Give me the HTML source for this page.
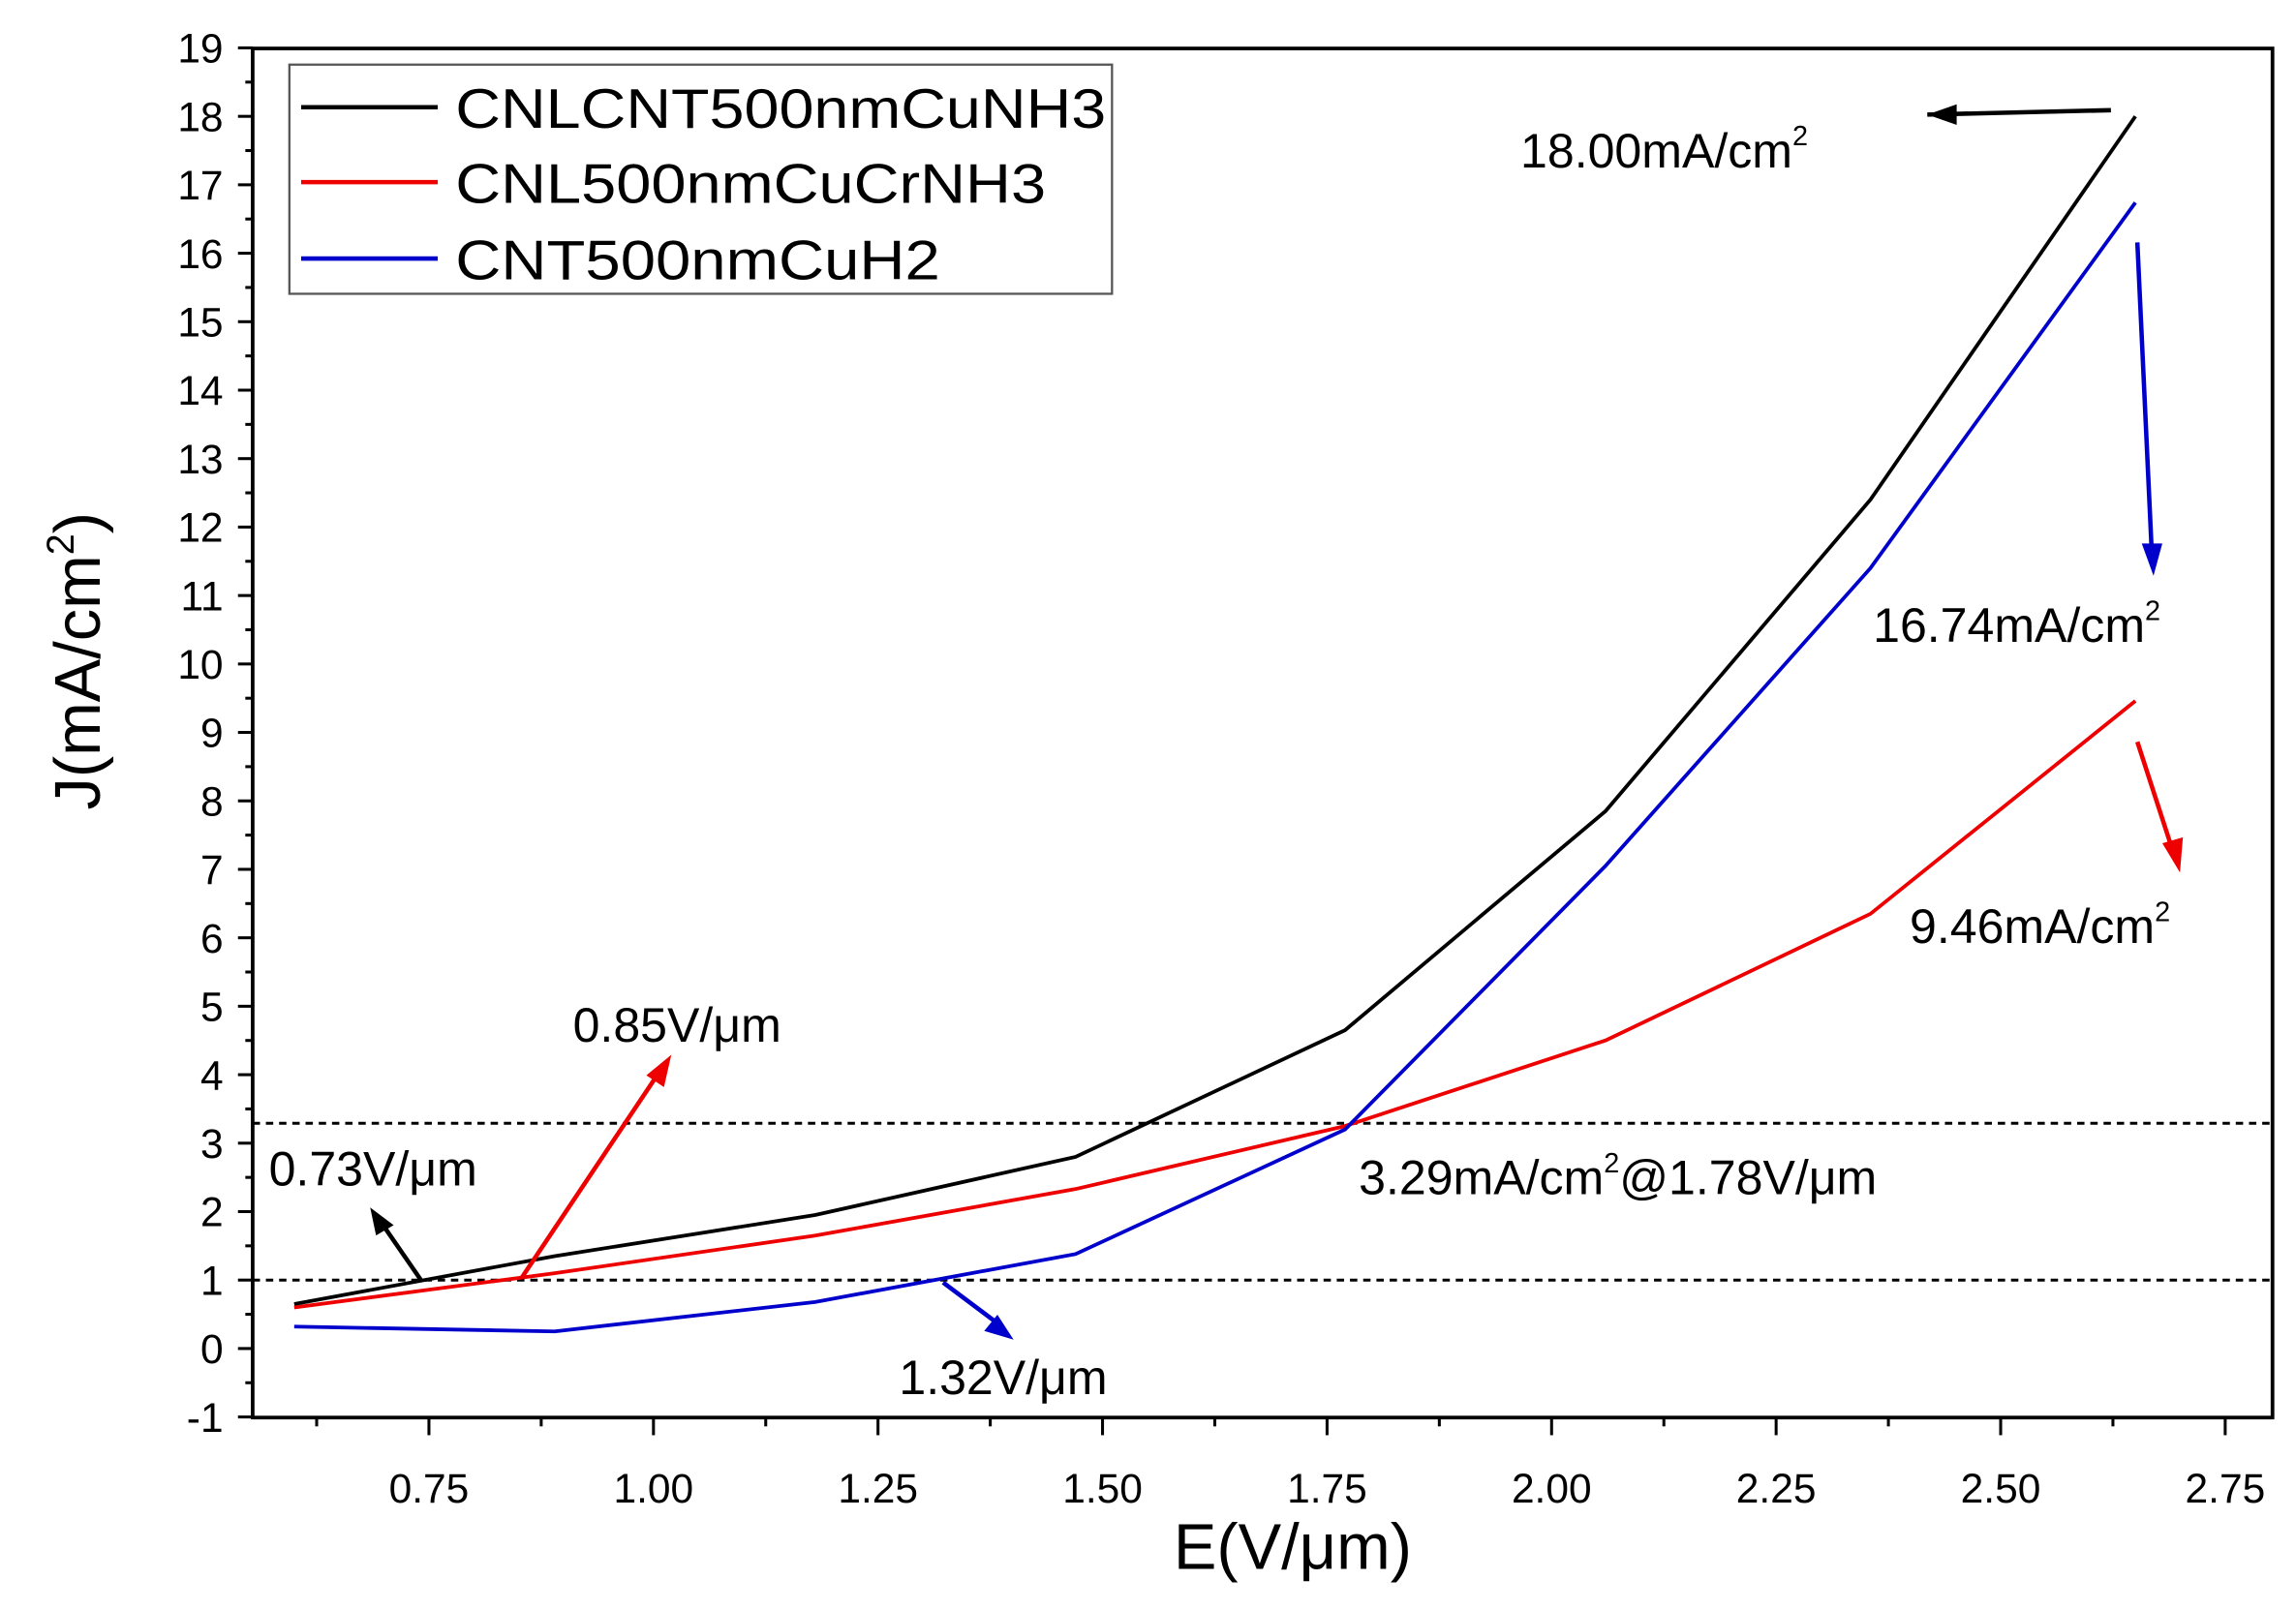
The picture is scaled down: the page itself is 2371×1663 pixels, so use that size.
<!DOCTYPE html>
<html><head><meta charset="utf-8"><style>
html,body{margin:0;padding:0;background:#fff;}
svg{display:block;font-family:"Liberation Sans",Arial,sans-serif;}
</style></head><body>
<svg id="chart" width="2371" height="1663" viewBox="0 0 1563 1096" preserveAspectRatio="none" xmlns="http://www.w3.org/2000/svg">
<g id="axes"></g>
<g id="plot"></g>
<g>
<rect x="197" y="44" width="560" height="156" fill="#fff" stroke="#555" stroke-width="1.5"/>
<line x1="205" y1="73" x2="298" y2="73" stroke="#000" stroke-width="3"/>
<text x="310" y="87" font-size="38" textLength="443" lengthAdjust="spacingAndGlyphs">CNLCNT500nmCuNH3</text>
<line x1="205" y1="124" x2="298" y2="124" stroke="#e00" stroke-width="3"/>
<text x="310" y="138" font-size="38" textLength="402" lengthAdjust="spacingAndGlyphs">CNL500nmCuCrNH3</text>
<line x1="205" y1="176" x2="298" y2="176" stroke="#00c" stroke-width="3"/>
<text x="310" y="190" font-size="38" textLength="330" lengthAdjust="spacingAndGlyphs">CNT500nmCuH2</text>
</g>
<g font-size="33">
<text x="1035" y="114">18.00mA/cm<tspan font-size="19" dy="-15">2</tspan></text>
<text x="1275" y="437">16.74mA/cm<tspan font-size="19" dy="-15">2</tspan></text>
<text x="1300" y="642">9.46mA/cm<tspan font-size="19" dy="-15">2</tspan></text>
<text x="925" y="813">3.29mA/cm<tspan font-size="19" dy="-15">2</tspan><tspan dy="15">@1.78V/μm</tspan></text>
<text x="390" y="709">0.85V/μm</text>
<text x="183" y="807">0.73V/μm</text>
<text x="612" y="949">1.32V/μm</text>
<g stroke-width="3">
<line x1="1437" y1="75" x2="1312" y2="78" stroke="#000"/><path d="M1312,78 L1332,71 L1332,85z" fill="#000"/>
<line x1="1455" y1="165" x2="1465" y2="380" stroke="#00c"/><path d="M1466,392 L1458,370 L1472,370z" fill="#00c"/>
<line x1="1455" y1="505" x2="1480" y2="582" stroke="#e00"/><path d="M1484,594 L1472,574 L1486,570z" fill="#e00"/>
<line x1="355" y1="870" x2="450" y2="728" stroke="#e00"/><path d="M457,718 L452,740 L440,732z" fill="#e00"/>
<line x1="287" y1="872" x2="258" y2="830" stroke="#000"/><path d="M252,822 L268,834 L256,841z" fill="#000"/>
<line x1="642" y1="873" x2="682" y2="903" stroke="#00c"/><path d="M690,912 L670,906 L679,895z" fill="#00c"/>
</g>
</g>
<text x="880" y="1068" font-size="44" text-anchor="middle">E(V/μm)</text>
<text transform="translate(68,450) rotate(-90)" font-size="44" text-anchor="middle">J(mA/cm<tspan font-size="26" dy="-18">2</tspan><tspan dy="18">)</tspan></text>
</svg>
<script>
const xValues=[0.6,0.89,1.18,1.47,1.77,2.06,2.355,2.65];
const seriesBlack=[0.65,1.35,1.95,2.8,4.65,7.85,12.4,18.0];
const seriesRed=[0.6,1.1,1.65,2.33,3.25,4.5,6.35,9.46];
const seriesBlue=[0.32,0.25,0.68,1.38,3.2,7.05,11.4,16.74];
const refLines=[3.29,1.0];
const yTicks=[-1,0,1,2,3,4,5,6,7,8,9,10,11,12,13,14,15,16,17,18,19];
const xTicks=[0.75,1.00,1.25,1.50,1.75,2.00,2.25,2.50,2.75];
const L=172,R=1547,T=33,B=965;
function sx(v){return 292+(v-0.75)*611.4;}
function sy(v){return 918-v*46.6;}
const NS="http://www.w3.org/2000/svg";
function mk(tag,attrs,parent){const e=document.createElementNS(NS,tag);for(const k in attrs)e.setAttribute(k,attrs[k]);parent.appendChild(e);return e;}
const ax=document.getElementById('axes'),pl=document.getElementById('plot');
const frame=mk('rect',{x:L,y:T,width:R-L,height:B-T,fill:'none',stroke:'#000','stroke-width':2.5},ax);


yTicks.forEach(v=>{
 const y=sy(v);
 const t=mk('line',{x1:L-10,x2:L,y1:y,y2:y,stroke:'#000','stroke-width':2},ax);
 
 
 if(v<19){const m=mk('line',{x1:L-5,x2:L,y1:sy(v+0.5),y2:sy(v+0.5),stroke:'#000','stroke-width':2},ax);
 
 }
 const lb=mk('text',{x:L-20,y:y+10,'font-size':28,'text-anchor':'end'},ax);lb.textContent=v;
 
 
});
xTicks.forEach(v=>{
 const x=sx(v);
 const t=mk('line',{x1:x,x2:x,y1:B,y2:B+12,stroke:'#000','stroke-width':2},ax);
 
 
 const mx=sx(v-0.125);
 if(mx>L){const m=mk('line',{x1:mx,x2:mx,y1:B,y2:B+6,stroke:'#000','stroke-width':2},ax);
 
 }
 const lb=mk('text',{x:x,y:B+58,'font-size':28,'text-anchor':'middle'},ax);lb.textContent=v.toFixed(2);
 
 
});
refLines.forEach(v=>{
 const d=mk('line',{x1:L,x2:R,y1:sy(v),y2:sy(v),stroke:'#000','stroke-width':2,'stroke-dasharray':'5,4'},pl);
 
 
});
[[seriesBlack,'#000','series-cnlcnt500nmcunh3'],[seriesRed,'#e00','series-cnl500nmcucrnh3'],[seriesBlue,'#00c','series-cnt500nmcuh2']].forEach(([s,c,n])=>{
 const pts=s.map((v,i)=>sx(xValues[i])+','+sy(v)).join(' ');
 const p=mk('polyline',{points:pts,fill:'none',stroke:c,'stroke-width':2.5},pl);
 
 
});
</script>
</body></html>
